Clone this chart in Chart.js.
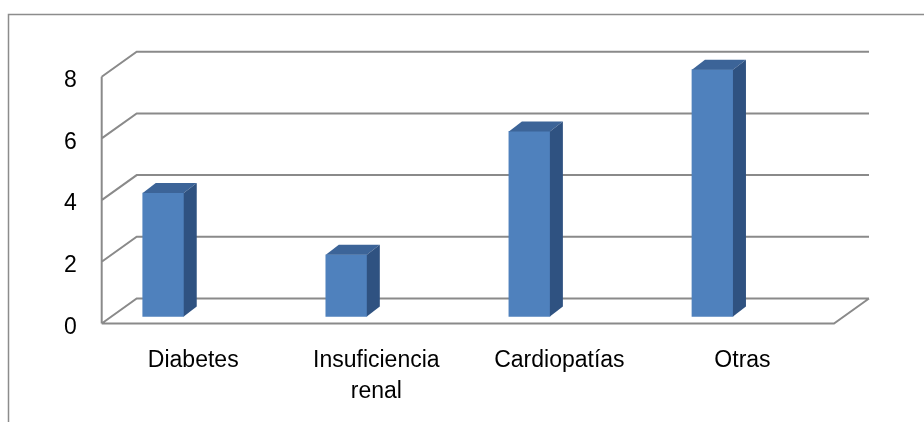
<!DOCTYPE html>
<html><head><meta charset="utf-8">
<script src="https://cdn.jsdelivr.net/npm/chart.js@4/dist/chart.umd.min.js"></script>
<style>html,body{margin:0;padding:0;background:#fff;overflow:hidden}#wrap{width:924px;height:422px;position:relative}</style>
</head><body><div id="wrap"><canvas id="c" width="924" height="422"></canvas></div>
<script>
const categories = [['Diabetes'], ['Insuficiencia', 'renal'], ['Cardiopatías'], ['Otras']];
const values = [4, 2, 6, 8];
const yTicks = [0, 2, 4, 6, 8];
const yMin = 0, yMax = 8, yStep = 2;

const wallDepth = { dx: 35, dy: -25 };
const barShift = { dx: -30, dy: -7 };
const barDepth = { dx: 13, dy: -10 };
const frontColor = '#4F81BD', topColor = '#3C6498', sideColor = '#2F5281';
const lineColor = '#8a8a8a';

const frame3d = {
  id: 'frame3d',
  beforeDraw(chart) {
    const ctx = chart.ctx;
    ctx.save();
    ctx.strokeStyle = '#8c8c8c'; ctx.lineWidth = 1.5;
    ctx.beginPath();
    ctx.moveTo(8.5, chart.height); ctx.lineTo(8.5, 14.5); ctx.lineTo(chart.width, 14.5);
    ctx.stroke();
    ctx.restore();
  },
  beforeDatasetsDraw(chart) {
    const { ctx, chartArea: a, scales: { y } } = chart;
    const dx = wallDepth.dx, dy = wallDepth.dy;
    ctx.save();
    ctx.strokeStyle = lineColor; ctx.lineWidth = 2; ctx.lineJoin = 'miter';
    ctx.beginPath();
    ctx.moveTo(a.left, y.getPixelForValue(yMax)); ctx.lineTo(a.left, y.getPixelForValue(yMin));
    yTicks.forEach(v => {
      const py = y.getPixelForValue(v);
      ctx.moveTo(a.left, py); ctx.lineTo(a.left + dx, py + dy); ctx.lineTo(a.right + dx, py + dy);
    });
    const p0 = y.getPixelForValue(yMin);
    ctx.moveTo(a.left, p0); ctx.lineTo(a.right, p0); ctx.lineTo(a.right + dx, p0 + dy);
    ctx.stroke();
    ctx.restore();
    ctx.save();
    ctx.translate(barShift.dx, barShift.dy);
  },
  afterDatasetsDraw(chart) {
    const ctx = chart.ctx;
    const bdx = barDepth.dx, bdy = barDepth.dy;
    chart.getDatasetMeta(0).data.forEach(bar => {
      const l = bar.x - bar.width / 2, r = bar.x + bar.width / 2, t = bar.y, b = bar.base;
      ctx.fillStyle = topColor;
      ctx.beginPath();
      ctx.moveTo(l, t); ctx.lineTo(l + bdx, t + bdy); ctx.lineTo(r + bdx, t + bdy); ctx.lineTo(r, t);
      ctx.closePath(); ctx.fill();
      ctx.fillStyle = sideColor;
      ctx.beginPath();
      ctx.moveTo(r, t); ctx.lineTo(r + bdx, t + bdy); ctx.lineTo(r + bdx, b + bdy); ctx.lineTo(r, b);
      ctx.closePath(); ctx.fill();
    });
    ctx.restore();
  }
};

const family = "'Liberation Sans', Arial, sans-serif";

new Chart(document.getElementById('c'), {
  type: 'bar',
  data: {
    labels: categories,
    datasets: [{
      data: values,
      backgroundColor: frontColor,
      borderWidth: 0,
      barThickness: 41,
      clip: false
    }]
  },
  options: {
    responsive: false,
    animation: false,
    devicePixelRatio: 1,
    layout: { padding: { top: 76.7, right: 90, left: 0, bottom: 0 } },
    plugins: { legend: { display: false }, tooltip: { enabled: false }, title: { display: false } },
    scales: {
      x: {
        grid: { display: false, drawTicks: false },
        border: { display: false },
        ticks: { font: { family, size: 23, lineHeight: 1.35 }, color: '#000', padding: 21.5, maxRotation: 0, autoSkip: false },
        afterFit(s) { s.height = 98.5; }
      },
      y: {
        min: yMin, max: yMax,
        grid: { display: false, drawTicks: false },
        border: { display: false },
        ticks: {
          stepSize: yStep,
          font: { family, size: 23, lineHeight: '8px' },
          color: '#000', padding: 25,
          callback: (v) => ['', String(v)]
        },
        afterFit(s) { s.width = 101.7; }
      }
    }
  },
  plugins: [frame3d]
});
</script>
</body></html>
